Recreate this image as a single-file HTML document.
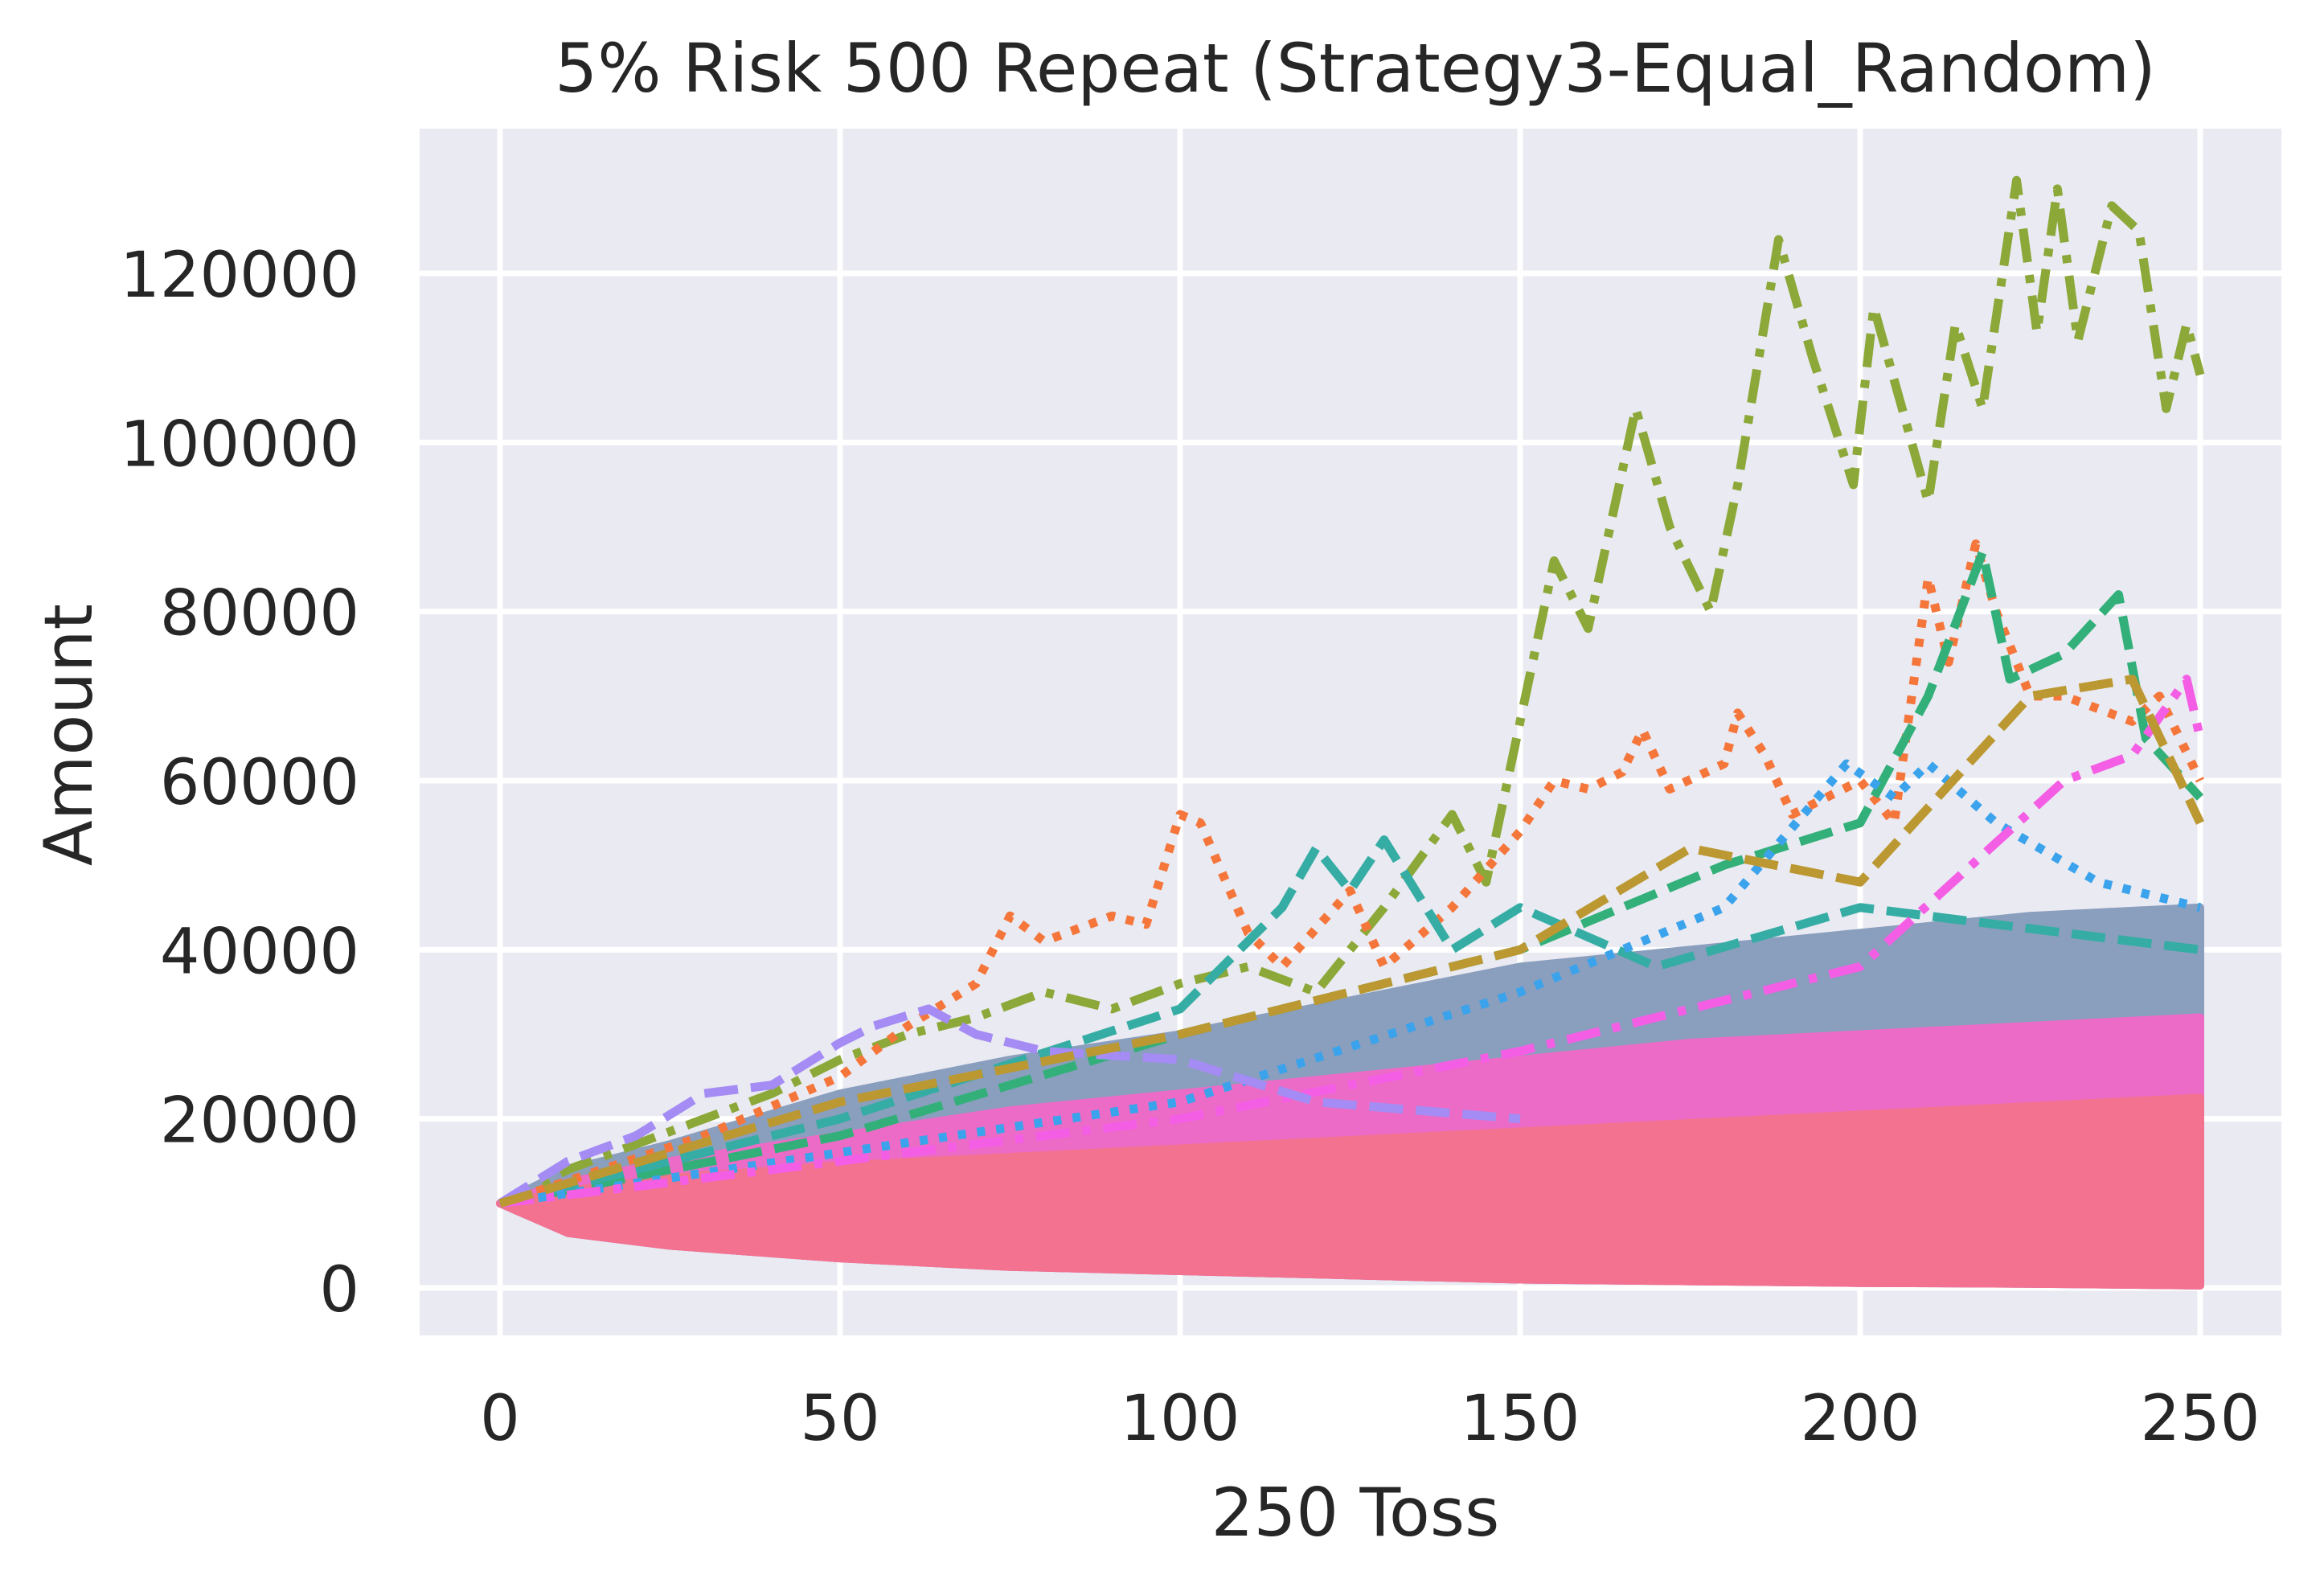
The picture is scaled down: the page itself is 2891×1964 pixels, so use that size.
<!DOCTYPE html>
<html><head><meta charset="utf-8"><style>
html,body{margin:0;padding:0;background:#fff}
svg{display:block;font-family:"DejaVu Sans","Liberation Sans",sans-serif}
</style></head><body>
<svg id="chart" width="2891" height="1964" viewBox="0 0 2891 1964" xmlns="http://www.w3.org/2000/svg">
<rect x="0" y="0" width="2891" height="1964" fill="#fff"/>
<rect x="522" y="160" width="2316" height="1501" fill="#EAEAF2"/>
<g id="grid"></g>
<g id="bands"></g>
<g id="lines"></g>
<g id="ticks"></g>
<text x="1686" y="114" font-size="83.5" fill="#262626" text-anchor="middle">5% Risk 500 Repeat (Strategy3-Equal_Random)</text>
<text x="1686" y="1910" font-size="83" fill="#262626" text-anchor="middle">250 Toss</text>
<text x="0" y="0" font-size="83" fill="#262626" text-anchor="middle" transform="translate(114,914) rotate(-90)">Amount</text>
</svg>
<script>
const xTicks=[0,50,100,150,200,250];
const yTicks=[0,20000,40000,60000,80000,100000,120000];
const bandX=[0,10,25,50,75,100,125,150,175,200,225,250];
const outerUpper=[10000,14000,17000,23000,27000,30000,34000,38000,40000,42000,44000,45000];
const midUpper=[10000,12500,15000,18000,21000,23000,25000,27000,29000,30000,31000,32000];
const coreUpper=[10000,11500,13000,14500,15500,16500,17500,18500,19500,20500,21500,22500];
const bandLower=[10000,6500,5000,3500,2500,2000,1500,1000,800,600,500,300];
const olivX=[0,10,20,30,40,50,60,70,80,90,100,110,120,130,140,145,150,155,160,167,172,178,182,188,193,199,202,210,214,218,223,226,229,232,237,241,245,248,250];
const olivY=[10000,14000,17000,20000,23000,27000,30000,32000,35000,33000,36000,38000,35000,45000,56000,48000,67000,86000,78000,104000,90000,80000,95000,124000,110000,95000,116000,93000,114000,104000,131000,113000,130000,112000,128000,125000,104000,114000,108000];
const orangeX=[0,30,50,60,70,75,80,90,95,100,103,110,115,125,130,140,150,155,160,165,168,172,180,182,186,190,200,205,210,213,217,220,225,230,240,244,250];
const orangeY=[10000,18000,25000,31000,36000,44000,41000,44000,43000,56000,55000,42000,38000,47000,38000,45000,54000,60000,59000,61000,66000,59000,62000,68000,63000,56000,60000,55000,84000,74000,88000,80000,70000,70000,67000,70000,60000];
const greenX=[0,50,100,150,180,200,210,218,222,230,238,242,250];
const greenY=[10000,18000,30000,40000,50000,55000,70000,87000,72000,75000,82000,65000,58000];
const tealX=[0,50,100,115,120,125,130,140,150,170,200,250];
const tealY=[10000,20000,33000,45000,52000,47000,53000,40000,45000,38000,45000,40000];
const blueX=[0,100,150,180,198,205,210,220,235,250];
const blueY=[10000,22000,35000,45000,62000,58000,62000,55000,48000,45000];
const magX=[0,100,150,200,230,240,248,250];
const magY=[10000,20000,28000,38000,60000,63000,72000,65000];
const purpX=[0,10,20,30,40,50,55,63,70,80,100,120,150];
const purpY=[10000,15000,18000,23000,24000,29000,31000,33000,30000,28000,27000,22000,20000];
const gold2X=[0,50,100,150,175,200,225,240,250];
const gold2Y=[10000,22000,30000,40000,52000,48000,70000,72000,55000];
const series=[
 {name:'series-olive',x:olivX,y:olivY,c:'#8CA838',d:'42,16,10,16'},
 {name:'series-orange',x:orangeX,y:orangeY,c:'#F5763B',d:'10,14'},
 {name:'series-green',x:greenX,y:greenY,c:'#33B07A',d:'42,16'},
 {name:'series-teal',x:tealX,y:tealY,c:'#36ADA4',d:'42,16'},
 {name:'series-blue',x:blueX,y:blueY,c:'#3BA3EC',d:'10,14'},
 {name:'series-magenta',x:magX,y:magY,c:'#F45EE5',d:'42,16,10,16'},
 {name:'series-purple',x:purpX,y:purpY,c:'#A48CF4',d:'42,16'},
 {name:'series-gold',x:gold2X,y:gold2Y,c:'#BB9832',d:'42,16'}
];
const NS='http://www.w3.org/2000/svg';
const X=v=>622+(v-0)*(2737-622)/250;
const Y=v=>1602-v*(1602-340)/120000;
const grid=document.getElementById('grid'),ticks=document.getElementById('ticks');
xTicks.forEach(t=>{
 const l=document.createElementNS(NS,'line');
 
 
 l.setAttribute('x1',X(t));l.setAttribute('x2',X(t));l.setAttribute('y1',160);l.setAttribute('y2',1661);
 l.setAttribute('stroke','#fff');l.setAttribute('stroke-width',7);grid.appendChild(l);
 const tx=document.createElementNS(NS,'text');
 
 
 tx.setAttribute('x',X(t));tx.setAttribute('y',1791);tx.setAttribute('font-size',78);
 tx.setAttribute('fill','#262626');tx.setAttribute('text-anchor','middle');tx.textContent=t;ticks.appendChild(tx);
});
yTicks.forEach(t=>{
 const l=document.createElementNS(NS,'line');
 
 
 l.setAttribute('x1',522);l.setAttribute('x2',2838);l.setAttribute('y1',Y(t));l.setAttribute('y2',Y(t));
 l.setAttribute('stroke','#fff');l.setAttribute('stroke-width',7);grid.appendChild(l);
 const tx=document.createElementNS(NS,'text');
 
 
 tx.setAttribute('x',447);tx.setAttribute('y',Y(t)+29);tx.setAttribute('font-size',78);
 tx.setAttribute('fill','#262626');tx.setAttribute('text-anchor','end');tx.textContent=t;ticks.appendChild(tx);
});
const bands=document.getElementById('bands');
function band(up,col,nm){
 let pts=bandX.map((v,i)=>X(v)+','+Y(up[i]));
 for(let i=bandX.length-1;i>=0;i--)pts.push(X(bandX[i])+','+Y(bandLower[i]));
 const p=document.createElementNS(NS,'polygon');
 
 
 p.setAttribute('points',pts.join(' '));p.setAttribute('fill',col);
 p.setAttribute('stroke',col);p.setAttribute('stroke-width',10);p.setAttribute('stroke-linejoin','round');
 bands.appendChild(p);
}
band(outerUpper,'#8A9EBE','band-outer');
band(midUpper,'#EC6BC6','band-mid');
band(coreUpper,'#F2728F','band-core');
const lines=document.getElementById('lines');
series.forEach(s=>{
 const p=document.createElementNS(NS,'polyline');
 
 
 p.setAttribute('points',s.x.map((v,i)=>X(v)+','+Y(s.y[i])).join(' '));
 p.setAttribute('fill','none');p.setAttribute('stroke',s.c);p.setAttribute('stroke-width',11);
 p.setAttribute('stroke-dasharray',s.d);p.setAttribute('stroke-linejoin','round');
 lines.appendChild(p);
});
</script>
</body></html>
